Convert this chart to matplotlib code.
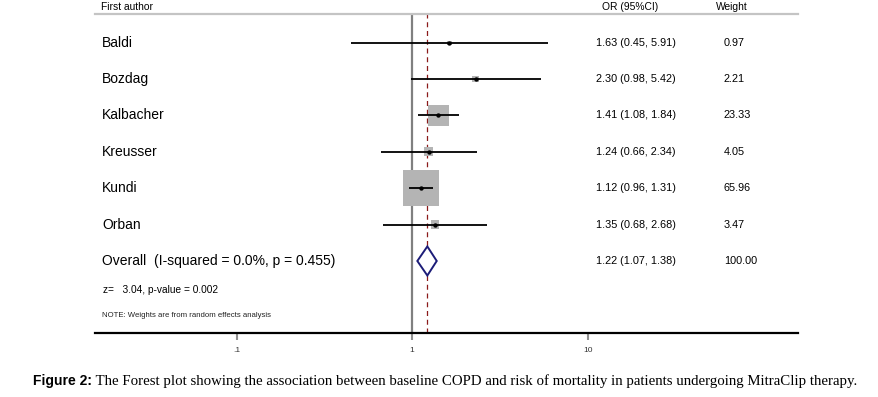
import numpy as np
import matplotlib
matplotlib.use("Agg")
import matplotlib.pyplot as plt
from matplotlib import transforms
from matplotlib.patches import Polygon

# ---- data ----
studies = ["Baldi", "Bozdag", "Kalbacher", "Kreusser", "Kundi", "Orban"]
or_est = [1.63, 2.30, 1.41, 1.24, 1.12, 1.35]
ci_low = [0.45, 0.98, 1.08, 0.66, 0.96, 0.68]
ci_high = [5.91, 5.42, 1.84, 2.34, 1.31, 2.68]
weights = [0.97, 2.21, 23.33, 4.05, 65.96, 3.47]
overall_est = 1.22
overall_low = 1.07
overall_high = 1.38
overall_weight = 100.00
overall_label = "Overall  (I-squared = 0.0%, p = 0.455)"
z_label = "z=   3.04, p-value = 0.002"
note_label = "NOTE: Weights are from random effects analysis"
tick_values = [0.1, 1, 10]
tick_labels = [".1", "1", "10"]
header_labels = ["First author", "OR (95%CI)", "Weight"]
caption_bold = "Figure 2:"
caption_text = (" The Forest plot showing the association between baseline COPD and "
                "risk of mortality in patients undergoing MitraClip therapy.")

W, H = 879, 397
fig = plt.figure(figsize=(W / 100, H / 100), dpi=100)
plt.rcParams['font.family'] = ['Liberation Sans', 'DejaVu Sans']

# axes geometry (pixels)
ax_l, ax_r, ax_t, ax_b = 95, 798, 14, 333
ax = fig.add_axes([ax_l / W, 1 - ax_b / H, (ax_r - ax_l) / W, (ax_b - ax_t) / H])
ax.set_xscale("log")
ax.set_xlim(10 ** -1.807, 10 ** 2.198)
ax.set_ylim(7.98, -0.79)

for s in ["left", "right"]:
    ax.spines[s].set_visible(False)
ax.spines["top"].set_color("#c4c4c4")
ax.spines["top"].set_linewidth(1.6)
ax.spines["bottom"].set_color("black")
ax.spines["bottom"].set_linewidth(1.6)
ax.set_yticks([])
ax.set_xticks(tick_values)
ax.set_xticklabels(tick_labels, fontsize=6, color="#333333")
ax.xaxis.set_minor_locator(matplotlib.ticker.NullLocator())
ax.tick_params(axis="x", length=5, width=1.5, color="#909090", pad=5)

# reference lines
ax.axvline(1, color="#808080", lw=1.6, zorder=1)
ax.axvline(overall_est, color="#8b1a1a", lw=0.9, ls=(0, (4, 3)), zorder=1)

ypos = np.arange(len(studies))
max_w = max(weights)
box_px = 36.0
sizes = [(box_px * 0.72 * np.sqrt(w / max_w)) ** 2 for w in weights]
ax.scatter(or_est, ypos, s=sizes, marker="s", color="#b4b4b4", linewidths=0, zorder=2)
ax.hlines(ypos, ci_low, ci_high, color="black", lw=1.3, zorder=3)
ax.scatter(or_est, ypos, s=10, color="black", zorder=4, linewidths=0)

# overall diamond
y_ov = len(studies)
dh = 0.40
diamond = Polygon([[overall_low, y_ov], [overall_est, y_ov - dh], [overall_high, y_ov],
                   [overall_est, y_ov + dh]], closed=True, facecolor="white",
                  edgecolor="#1c1c78", lw=1.4, zorder=5)
ax.add_patch(diamond)

# text columns
tr = transforms.blended_transform_factory(fig.transFigure, ax.transData)
lab_x = 102 / W
or_x = 596 / W
wt_x = 724 / W
for i, name in enumerate(studies):
    fig.text(lab_x, ypos[i], name, transform=tr, fontsize=10, va="center", ha="left")
    fig.text(or_x, ypos[i], f"{or_est[i]:.2f} ({ci_low[i]:.2f}, {ci_high[i]:.2f})",
             transform=tr, fontsize=7.8, va="center", ha="left")
    fig.text(wt_x, ypos[i], f"{weights[i]:.2f}", transform=tr, fontsize=7.8,
             va="center", ha="left")
fig.text(lab_x, y_ov, overall_label, transform=tr, fontsize=10, va="center", ha="left")
fig.text(or_x, y_ov, f"{overall_est:.2f} ({overall_low:.2f}, {overall_high:.2f})",
         transform=tr, fontsize=7.8, va="center", ha="left")
fig.text(wt_x, y_ov, f"{overall_weight:.2f}", transform=tr, fontsize=7.8,
         va="center", ha="left")
fig.text(103 / W, y_ov + 0.8, z_label, transform=tr, fontsize=7.3, va="center", ha="left")
fig.text(102 / W, y_ov + 1.5, note_label, transform=tr, fontsize=5.6, va="center",
         ha="left", color="#222222")

# header
hy = 1 - 7 / H
fig.text(101 / W, hy, header_labels[0], fontsize=7.4, va="center", ha="left")
fig.text(630 / W, hy, header_labels[1], fontsize=7.4, va="center", ha="center")
fig.text(732 / W, hy, header_labels[2], fontsize=7.4, va="center", ha="center")

# caption
cy = 1 - 381 / H
t1 = fig.text(33 / W, cy, caption_bold, fontsize=10, fontweight="bold",
              va="center", ha="left", family=["Liberation Sans"])
fig.canvas.draw()
bb = t1.get_window_extent()
fig.text(bb.x1 / W, cy, caption_text, fontsize=10.7, va="center", ha="left",
         family=["Liberation Serif"])

fig.savefig("out.png", dpi=100)
